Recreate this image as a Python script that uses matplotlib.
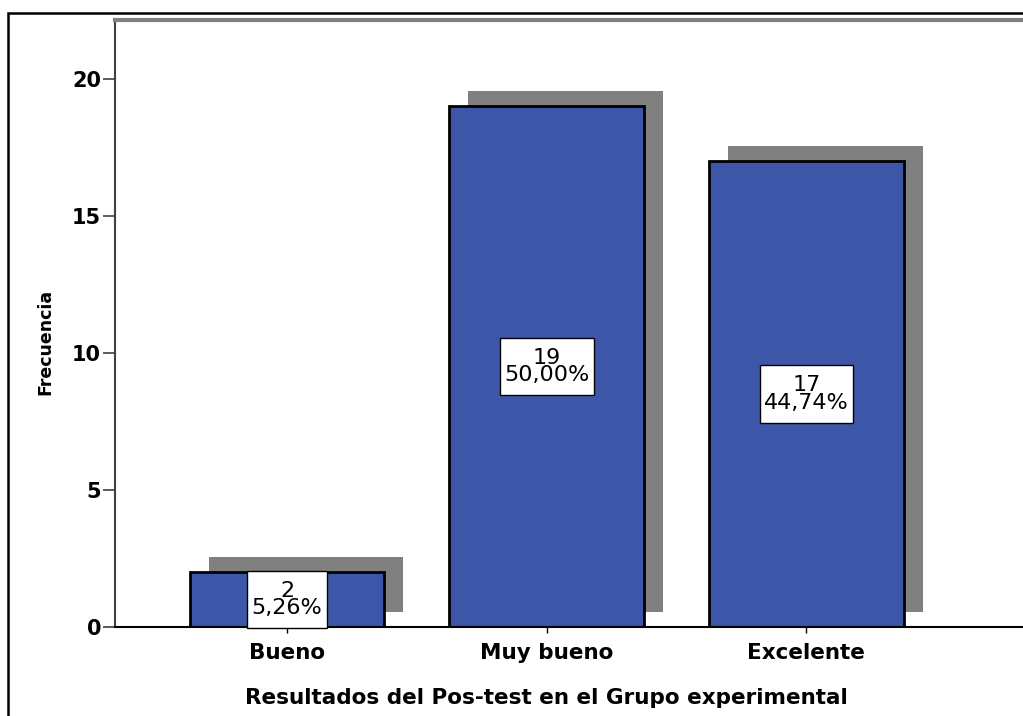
import numpy as np
import matplotlib.pyplot as plt
from matplotlib.patches import Rectangle

categories = ["Bueno", "Muy bueno", "Excelente"]
counts = [2, 19, 17]
percents = ["5,26%", "50,00%", "44,74%"]
y_ticks = [0, 5, 10, 15, 20]

BAR_COLOR = "#3d56a8"
SHADOW_COLOR = "#808080"
BAR_WIDTH = 0.75
SHADOW_DX = 0.073  # desplazamiento de la sombra
SHADOW_DY = 0.55

plt.rcParams["font.family"] = ["DejaVu Sans"]

fig = plt.figure(figsize=(10.23, 7.16), dpi=100)
# marco exterior (se sale por la derecha y abajo)
fig.patches.append(Rectangle((8 / 1023, -0.05), 1.1, 1 - 13 / 716 + 0.05,
                             transform=fig.transFigure, fill=False,
                             edgecolor="black", linewidth=1.8, zorder=0))

ax = fig.add_axes([115 / 1023, 89 / 716, 925 / 1023, 607 / 716])
x = np.arange(len(categories))

ax.bar(x + SHADOW_DX, counts, width=BAR_WIDTH, bottom=SHADOW_DY,
       color=SHADOW_COLOR, edgecolor="none", zorder=1)
ax.bar(x, counts, width=BAR_WIDTH, color=BAR_COLOR, edgecolor="black",
       linewidth=2, zorder=2)

for xi, c, p in zip(x, counts, percents):
    ax.text(xi, c / 2, f"{c}\n{p}", ha="center", va="center",
            fontsize=16, linespacing=0.85, zorder=5,
            bbox=dict(boxstyle="square,pad=0.2", facecolor="white",
                      edgecolor="black", linewidth=1, mutation_aspect=2.2))

ax.set_xlim(-0.663, 2.90)
ax.set_ylim(0, 22.15)
ax.set_xticks(x)
ax.set_xticklabels(categories, fontsize=15.5, fontweight="bold")
ax.set_yticks(y_ticks)
ax.set_yticklabels([str(t) for t in y_ticks], fontsize=15, fontweight="bold")
ax.tick_params(axis="y", length=9, width=1.2, color="#404040", pad=1)
ax.tick_params(axis="x", length=4.5, width=1, pad=7)

ax.set_xlabel("Resultados del Pos-test en el Grupo experimental",
              fontsize=15.5, fontweight="bold", labelpad=18)
ax.xaxis.label.set_x(0.466)
ax.set_ylabel("Frecuencia", fontsize=12.5, fontweight="bold", labelpad=13)
ax.yaxis.label.set_y(0.4695)

ax.spines["right"].set_visible(False)
ax.spines["top"].set_color(SHADOW_COLOR)
ax.spines["top"].set_linewidth(3)
ax.spines["left"].set_color("#404040")
ax.spines["left"].set_linewidth(1.5)
ax.spines["bottom"].set_color("black")
ax.spines["bottom"].set_linewidth(1.5)
ax.spines["bottom"].set_zorder(3)

fig.savefig("out.png", dpi=100)
